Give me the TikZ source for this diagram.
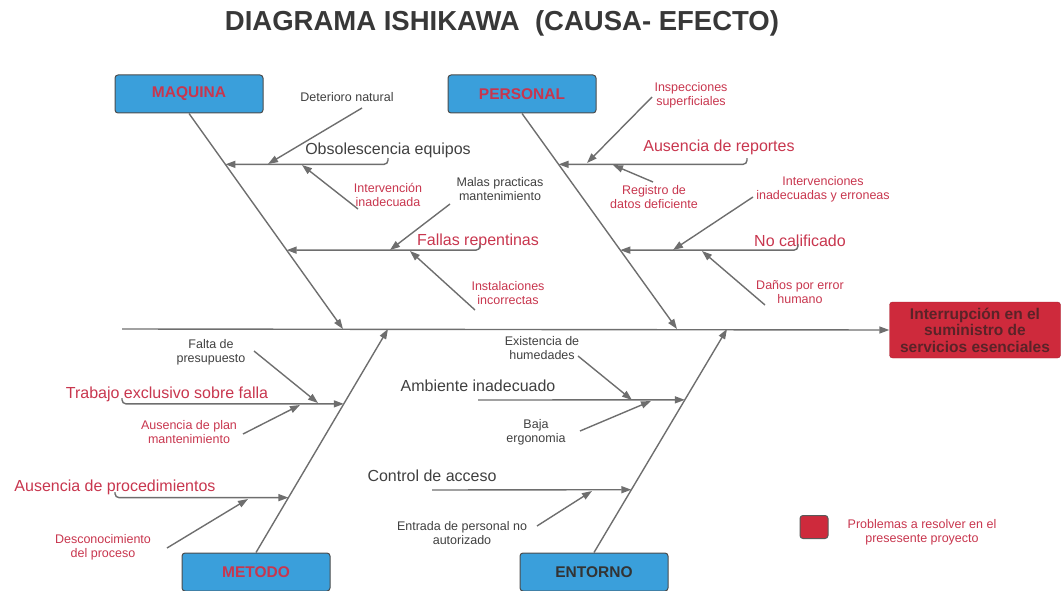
\documentclass[tikz,border=0pt]{standalone}
\usepackage{fontspec}
\setmainfont{Liberation Sans}
\usetikzlibrary{arrows.meta,calc}

\definecolor{boneGray}{HTML}{6E6E6E}
\definecolor{txtRed}{HTML}{C8364E}
\definecolor{txtGray}{HTML}{404040}
\definecolor{boxBlue}{HTML}{3A9FDB}
\definecolor{effRed}{HTML}{CE2A3C}
\definecolor{effTxt}{HTML}{5A2328}

\tikzset{
  catbox/.style={draw=black!70, fill=boxBlue, rounded corners=3pt, line width=1pt,
    minimum width=148pt, minimum height=38pt, font=\fontsize{15.5}{17}\selectfont\bfseries},
  bone/.style={draw=boneGray, line width=1.4pt, -{Triangle[length=10pt,width=7pt]}},
  small/.style={font=\fontsize{12.5}{14}\selectfont, align=center, inner sep=1pt},
  big/.style={font=\fontsize{16}{18}\selectfont, inner sep=1pt},
}

\begin{document}
\begin{tikzpicture}[x=1pt,y=-1pt]
\useasboundingbox (0,0) rectangle (1062,591);

% title
\node[font=\fontsize{27.5}{31}\selectfont\bfseries, text=black!78] (title) at (502,23) {DIAGRAMA ISHIKAWA\ \ (CAUSA- EFECTO)};

% category boxes
\node[catbox, text=txtRed] (maq) at (189,94) {MAQUINA};
\node[catbox, text=txtRed] (per) at (522,94) {PERSONAL};
\node[catbox, text=txtRed] (met) at (256,572) {METODO};
\node[catbox, text=black!80] (ent) at (594,572) {ENTORNO};

% effect
\node[fill=effRed, draw=effRed!80!black, rounded corners=3pt, minimum width=171pt, minimum height=56pt,
  text=effTxt, align=center, font=\fontsize{15.5}{16.5}\selectfont\bfseries] (eff) at (975,330)
  {Interrupción en el\\suministro de\\servicios esenciales};

% spine
\coordinate (spL) at (122,329);
\coordinate (sp1) at (343,329);
\coordinate (sp2) at (677,329);
\coordinate (sp3) at (388,329);
\coordinate (sp4) at (727,329);
\draw[bone] (spL) -- (eff.west);

% main bones
\draw[bone] (maq.south) -- (sp1);
\draw[bone] (per.south) -- (sp2);
\draw[bone] (met.north) -- (sp3);
\draw[bone] (ent.north) -- (sp4);

%maquina
\coordinate (obsE) at ($(maq.south)!0.236!(sp1)$);
\coordinate (falE) at ($(maq.south)!0.634!(sp1)$);
\node[big, text=txtGray] (obsT) at (388,150) {Obsolescencia equipos};
\coordinate (obsH) at (388,158);
\draw[bone, rounded corners=4pt] (obsH) |- (obsE);
\node[small, text=txtGray] (detT) at (347,97) {Deterioro natural};
\coordinate (detA) at (362,108);
\coordinate (detB) at (268,164);
\draw[bone] (detA) -- (detB);
\node[small, text=txtRed] (intT) at (388,195) {Intervención\\inadecuada};
\coordinate (intA) at (358,209);
\coordinate (intB) at (302,165);
\draw[bone] (intA) -- (intB);
\node[big, text=txtRed] (falT) at (478,241) {Fallas repentinas};
\coordinate (falH) at (480,244);
\draw[bone, rounded corners=4pt] (falH) |- (falE);
\node[small, text=txtGray] (malT) at (500,189) {Malas practicas\\mantenimiento};
\coordinate (malA) at (450,204);
\coordinate (malB) at (390,250);
\draw[bone] (malA) -- (malB);
\node[small, text=txtRed] (insT) at (508,293) {Instalaciones\\incorrectas};
\coordinate (insA) at (475,310);
\coordinate (insB) at (410,251);
\draw[bone] (insA) -- (insB);

%personal
\coordinate (ausE) at ($(per.south)!0.236!(sp2)$);
\coordinate (noE) at ($(per.south)!0.634!(sp2)$);
\node[big, text=txtRed] (ausT) at (719,147) {Ausencia de reportes};
\coordinate (ausH) at (747,158);
\draw[bone, rounded corners=4pt] (ausH) |- (ausE);
\node[small, text=txtRed] (inspT) at (691,95) {Inspecciones\\superficiales};
\coordinate (inspA) at (652,97);
\coordinate (inspB) at (587,163);
\draw[bone] (inspA) -- (inspB);
\node[small, text=txtRed] (regT) at (654,197) {Registro de\\datos deficiente};
\coordinate (regA) at (653,182);
\coordinate (regB) at (613,165);
\draw[bone] (regA) -- (regB);
\node[big, text=txtRed] (noT) at (800,241) {No calificado};
\coordinate (noH) at (798,244);
\draw[bone, rounded corners=4pt] (noH) |- (noE);
\node[small, text=txtRed] (ivT) at (823,189) {Intervenciones\\inadecuadas y erroneas};
\coordinate (ivA) at (753,197);
\coordinate (ivB) at (673,250);
\draw[bone] (ivA) -- (ivB);
\node[small, text=txtRed] (danT) at (800,292) {Daños por error\\humano};
\coordinate (danA) at (765,305);
\coordinate (danB) at (702,251);
\draw[bone] (danA) -- (danB);

%metodo
\coordinate (trE) at ($(met.north)!0.665!(sp3)$);
\coordinate (adE) at ($(met.north)!0.2455!(sp3)$);
\node[big, text=txtRed] (trT) at (167,394) {Trabajo exclusivo sobre falla};
\coordinate (trH) at (122,398);
\draw[bone, rounded corners=4pt] (trH) |- (trE);
\node[small, text=txtGray] (fpT) at (211,352) {Falta de\\presupuesto};
\coordinate (fpA) at (254,351);
\coordinate (fpB) at (318,403);
\draw[bone] (fpA) -- (fpB);
\node[small, text=txtRed] (apT) at (189,432) {Ausencia de plan\\mantenimiento};
\coordinate (apA) at (243,434);
\coordinate (apB) at (300,405);
\draw[bone] (apA) -- (apB);
\node[big, text=txtRed] (adT) at (115,487) {Ausencia de procedimientos};
\coordinate (adH) at (115,492);
\draw[bone, rounded corners=4pt] (adH) |- (adE);
\node[small, text=txtRed] (dpT) at (103,547) {Desconocimiento\\del proceso};
\coordinate (dpA) at (167,548);
\coordinate (dpB) at (248,499);
\draw[bone] (dpA) -- (dpB);

%entorno
\coordinate (amE) at ($(ent.north)!0.683!(sp4)$);
\coordinate (caE) at ($(ent.north)!0.281!(sp4)$);
\node[big, text=txtGray] (amT) at (478,386) {Ambiente inadecuado};
\coordinate (amS) at (478,400);
\draw[bone] (amS) -- (amE);
\node[small, text=txtGray] (ehT) at (542,348) {Existencia de\\humedades};
\coordinate (ehA) at (578,356);
\coordinate (ehB) at (632,400);
\draw[bone] (ehA) -- (ehB);
\node[small, text=txtGray] (beT) at (536,432) {Baja\\ergonomia};
\coordinate (beA) at (580,431);
\coordinate (beB) at (651,401);
\draw[bone] (beA) -- (beB);
\node[big, text=txtGray] (caT) at (432,476) {Control de acceso};
\coordinate (caS) at (432,490);
\draw[bone] (caS) -- (caE);
\node[small, text=txtGray] (epT) at (462,533) {Entrada de personal no\\autorizado};
\coordinate (epA) at (537,526);
\coordinate (epB) at (592,491);
\draw[bone] (epA) -- (epB);

% legend
\node[fill=effRed, draw=black!65, rounded corners=3pt, line width=1pt, minimum width=28pt, minimum height=23pt] (legSq) at (814,527) {};
\node[small, text=txtRed] (legT) at (922,532) {Problemas a resolver en el\\presesente proyecto};

\end{tikzpicture}
\end{document}
